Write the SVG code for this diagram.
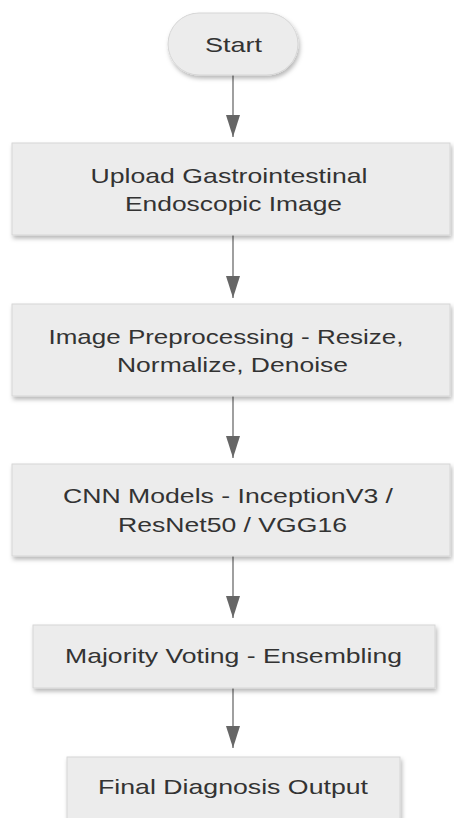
<svg xmlns="http://www.w3.org/2000/svg" width="454" height="818" viewBox="0 0 454 818">
  <defs>
    <filter id="sh" x="-10%" y="-20%" width="130%" height="150%">
      <feDropShadow dx="1.5" dy="3" stdDeviation="2" flood-color="#000" flood-opacity="0.28"/>
    </filter>
    <marker id="ah" viewBox="0 0 22 14" refX="22" refY="7" markerWidth="22" markerHeight="14" markerUnits="userSpaceOnUse" orient="auto">
      <path d="M0,0 L22,7 L0,14 Z" fill="#666"/>
    </marker>
    <style>
      .node { fill: #ececec; stroke: #d6d6d6; stroke-width: 1; filter: url(#sh); }
      .lbl { font-family: "Liberation Sans", Arial, sans-serif; font-size: 21px; fill: #333; text-anchor: middle; }
      .edge { stroke: #888; stroke-width: 1.6; fill: none; }
    </style>
  </defs>
  <rect width="454" height="818" fill="#fff"/>

  <g id="connectors">
    <line class="edge" x1="233" y1="75" x2="233" y2="137" marker-end="url(#ah)"/>
    <line class="edge" x1="233" y1="235" x2="233" y2="298" marker-end="url(#ah)"/>
    <line class="edge" x1="233" y1="396" x2="233" y2="458" marker-end="url(#ah)"/>
    <line class="edge" x1="233" y1="556" x2="233" y2="618" marker-end="url(#ah)"/>
    <line class="edge" x1="233" y1="688" x2="233" y2="748" marker-end="url(#ah)"/>
  </g>

  <g id="start">
    <rect class="node" x="168" y="13" width="130" height="62" rx="31" ry="31"/>
    <text class="lbl" x="233.5" y="52" textLength="57" lengthAdjust="spacingAndGlyphs">Start</text>
  </g>

  <g id="upload">
    <rect class="node" x="12" y="143" width="438" height="92"/>
    <text class="lbl" x="229" y="183" textLength="277" lengthAdjust="spacingAndGlyphs">Upload Gastrointestinal</text>
    <text class="lbl" x="233.5" y="211" textLength="217" lengthAdjust="spacingAndGlyphs">Endoscopic Image</text>
  </g>

  <g id="preprocess">
    <rect class="node" x="12" y="304" width="438" height="92"/>
    <text class="lbl" x="226" y="344" textLength="355" lengthAdjust="spacingAndGlyphs">Image Preprocessing - Resize,</text>
    <text class="lbl" x="232.5" y="372" textLength="231" lengthAdjust="spacingAndGlyphs">Normalize, Denoise</text>
  </g>

  <g id="cnn">
    <rect class="node" x="12" y="464" width="438" height="92"/>
    <text class="lbl" x="228" y="503" textLength="330" lengthAdjust="spacingAndGlyphs">CNN Models - InceptionV3 /</text>
    <text class="lbl" x="232.5" y="532" textLength="229" lengthAdjust="spacingAndGlyphs">ResNet50 / VGG16</text>
  </g>

  <g id="voting">
    <rect class="node" x="33" y="625" width="402" height="63"/>
    <text class="lbl" x="233.5" y="663" textLength="337" lengthAdjust="spacingAndGlyphs">Majority Voting - Ensembling</text>
  </g>

  <g id="output">
    <rect class="node" x="67" y="757" width="333" height="70"/>
    <text class="lbl" x="233" y="794" textLength="270" lengthAdjust="spacingAndGlyphs">Final Diagnosis Output</text>
  </g>
</svg>
